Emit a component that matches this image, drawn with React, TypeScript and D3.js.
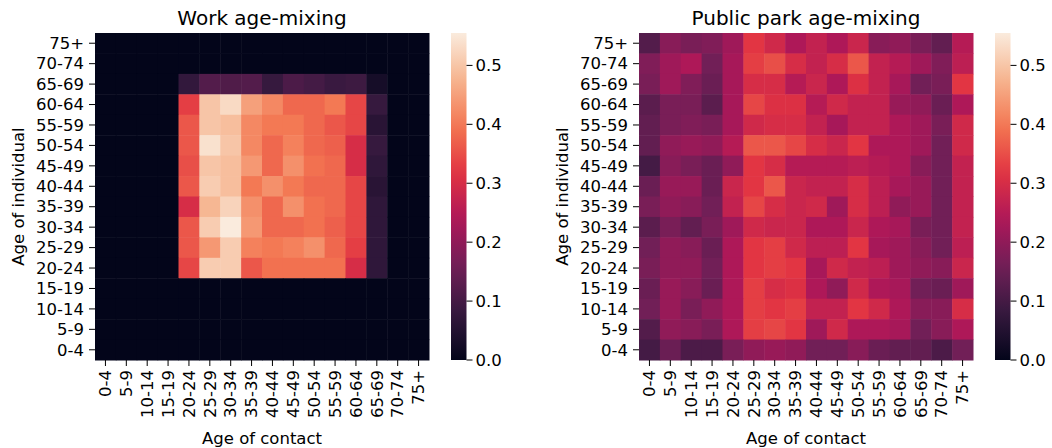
import * as d3 from 'd3'

const ageGroups = ['0-4', '5-9', '10-14', '15-19', '20-24', '25-29', '30-34', '35-39',
  '40-44', '45-49', '50-54', '55-59', '60-64', '65-69', '70-74', '75+']

// rows listed top to bottom (75+ first), columns 0-4 .. 75+
const z16 = ageGroups.map(() => 0)
const workRows: number[][] = [
  z16,
  z16,
  [0, 0, 0, 0, 0.075, 0.12, 0.115, 0.12, 0.08, 0.11, 0.10, 0.085, 0.09, 0.03, 0, 0],
  [0, 0, 0, 0, 0.33, 0.50, 0.53, 0.45, 0.42, 0.38, 0.38, 0.40, 0.34, 0.08, 0, 0],
  [0, 0, 0, 0, 0.36, 0.50, 0.49, 0.42, 0.40, 0.40, 0.38, 0.36, 0.34, 0.06, 0, 0],
  [0, 0, 0, 0, 0.36, 0.54, 0.50, 0.42, 0.38, 0.41, 0.38, 0.37, 0.30, 0.08, 0, 0],
  [0, 0, 0, 0, 0.35, 0.50, 0.49, 0.44, 0.38, 0.43, 0.39, 0.38, 0.30, 0.07, 0, 0],
  [0, 0, 0, 0, 0.36, 0.51, 0.49, 0.40, 0.43, 0.40, 0.38, 0.38, 0.34, 0.06, 0, 0],
  [0, 0, 0, 0, 0.30, 0.48, 0.52, 0.43, 0.38, 0.43, 0.39, 0.38, 0.34, 0.07, 0, 0],
  [0, 0, 0, 0, 0.36, 0.51, 0.555, 0.44, 0.38, 0.38, 0.39, 0.37, 0.34, 0.07, 0, 0],
  [0, 0, 0, 0, 0.36, 0.44, 0.51, 0.41, 0.40, 0.41, 0.43, 0.38, 0.33, 0.07, 0, 0],
  [0, 0, 0, 0, 0.34, 0.51, 0.51, 0.36, 0.39, 0.39, 0.39, 0.39, 0.30, 0.07, 0, 0],
  z16,
  z16,
  z16,
  z16,
]

const parkRows: number[][] = [
  [0.12, 0.19, 0.17, 0.18, 0.22, 0.32, 0.29, 0.24, 0.27, 0.24, 0.28, 0.19, 0.20, 0.17, 0.14, 0.25],
  [0.18, 0.22, 0.24, 0.16, 0.23, 0.33, 0.35, 0.30, 0.27, 0.30, 0.36, 0.27, 0.25, 0.22, 0.18, 0.26],
  [0.17, 0.22, 0.18, 0.15, 0.23, 0.30, 0.30, 0.25, 0.28, 0.24, 0.31, 0.27, 0.23, 0.16, 0.17, 0.32],
  [0.13, 0.17, 0.17, 0.13, 0.23, 0.34, 0.31, 0.31, 0.25, 0.29, 0.27, 0.27, 0.21, 0.20, 0.15, 0.24],
  [0.14, 0.17, 0.18, 0.17, 0.23, 0.29, 0.30, 0.30, 0.27, 0.23, 0.27, 0.27, 0.24, 0.22, 0.17, 0.29],
  [0.14, 0.20, 0.21, 0.20, 0.25, 0.36, 0.36, 0.34, 0.30, 0.28, 0.32, 0.24, 0.24, 0.22, 0.16, 0.29],
  [0.10, 0.19, 0.17, 0.15, 0.20, 0.32, 0.30, 0.25, 0.25, 0.25, 0.26, 0.25, 0.24, 0.19, 0.16, 0.27],
  [0.15, 0.21, 0.21, 0.15, 0.28, 0.32, 0.36, 0.28, 0.27, 0.27, 0.30, 0.26, 0.23, 0.21, 0.16, 0.27],
  [0.17, 0.20, 0.19, 0.16, 0.27, 0.34, 0.30, 0.28, 0.29, 0.22, 0.30, 0.26, 0.20, 0.21, 0.16, 0.27],
  [0.13, 0.17, 0.14, 0.17, 0.22, 0.29, 0.28, 0.28, 0.24, 0.24, 0.28, 0.24, 0.23, 0.17, 0.16, 0.27],
  [0.16, 0.20, 0.19, 0.15, 0.24, 0.32, 0.33, 0.29, 0.26, 0.26, 0.32, 0.23, 0.22, 0.19, 0.16, 0.26],
  [0.17, 0.20, 0.20, 0.16, 0.24, 0.32, 0.33, 0.32, 0.23, 0.29, 0.27, 0.26, 0.22, 0.20, 0.19, 0.28],
  [0.15, 0.21, 0.19, 0.15, 0.24, 0.33, 0.30, 0.31, 0.24, 0.20, 0.29, 0.24, 0.23, 0.16, 0.15, 0.22],
  [0.16, 0.21, 0.17, 0.20, 0.24, 0.33, 0.32, 0.33, 0.27, 0.27, 0.32, 0.29, 0.24, 0.19, 0.19, 0.30],
  [0.12, 0.20, 0.19, 0.17, 0.24, 0.33, 0.34, 0.32, 0.22, 0.29, 0.24, 0.24, 0.23, 0.16, 0.19, 0.24],
  [0.10, 0.15, 0.11, 0.11, 0.17, 0.20, 0.21, 0.20, 0.16, 0.16, 0.19, 0.15, 0.14, 0.14, 0.11, 0.16],
]

const colorbarTicks = [0, 0.1, 0.2, 0.3, 0.4, 0.5]
const vmax = 0.555

// seaborn "rocket" approximated by its sampled palette
const rocketStops = [0, 1 / 7, 2 / 7, 3 / 7, 4 / 7, 5 / 7, 6 / 7, 1]
const rocketColors = ['#03051a', '#35193e', '#701f57', '#ad1759', '#e13342', '#f37651', '#f6b48f', '#faebdd']
const rocket = d3.scaleLinear<string>()
  .domain(rocketStops)
  .range(rocketColors)
  .interpolate(d3.interpolateRgb)
  .clamp(true)

const font = 'DejaVu Sans, sans-serif'
const tickSize = 16.5
const top = 33
const bottom = 360

const Heatmap = ({ rows, title, x0 }: { rows: number[][], title: string, x0: number }) => {
  const width = 334
  const xScale = d3.scaleBand<string>().domain(ageGroups).range([x0, x0 + width])
  const yScale = d3.scaleBand<string>().domain(ageGroups.slice().reverse()).range([top, bottom])
  const cScale = d3.scaleLinear().domain([0, vmax]).range([bottom, top])
  const cbX = x0 + width + 22
  const cbW = 15.5
  const gradId = `grad-${x0}`
  const yLabels = ageGroups.slice().reverse()

  return (
    <g>
      <defs>
        <linearGradient id={gradId} x1="0" y1="1" x2="0" y2="0">
          {d3.range(0, 1.0001, 0.05).map(t => (
            <stop key={t} offset={t} stopColor={rocket(t)} />
          ))}
        </linearGradient>
      </defs>
      <text x={x0 + width / 2} y={25} textAnchor="middle" fontSize={20} fontFamily={font}>{title}</text>
      {rows.map((row, i) => row.map((v, j) => (
        <rect key={`${i}-${j}`}
          x={xScale(ageGroups[j])} y={yScale(yLabels[i])}
          width={xScale.bandwidth() + 0.5} height={yScale.bandwidth() + 0.5}
          fill={rocket(v / vmax)} />
      )))}
      {yLabels.map(lab => {
        const y = (yScale(lab) ?? 0) + yScale.bandwidth() / 2
        return (
          <g key={lab}>
            <line x1={x0 - 6} x2={x0} y1={y} y2={y} stroke="#000" strokeWidth={1} />
            <text x={x0 - 11} y={y} dy="0.35em" textAnchor="end" fontSize={tickSize} fontFamily={font}>{lab}</text>
          </g>
        )
      })}
      {ageGroups.map(lab => {
        const x = (xScale(lab) ?? 0) + xScale.bandwidth() / 2
        return (
          <g key={lab}>
            <line x1={x} x2={x} y1={bottom} y2={bottom + 6} stroke="#000" strokeWidth={1} />
            <text transform={`translate(${x},${bottom + 10}) rotate(-90)`} dy="0.35em"
              textAnchor="end" fontSize={tickSize} fontFamily={font}>{lab}</text>
          </g>
        )
      })}
      <text x={x0 + width / 2} y={444} textAnchor="middle" fontSize={tickSize} fontFamily={font}>Age of contact</text>
      <text transform={`translate(${x0 - 71},${(top + bottom) / 2}) rotate(-90)`} textAnchor="middle"
        fontSize={tickSize} fontFamily={font}>Age of individual</text>
      <rect x={cbX} y={top} width={cbW} height={bottom - top} fill={`url(#${gradId})`} />
      {colorbarTicks.map(t => (
        <g key={t}>
          <line x1={cbX + cbW} x2={cbX + cbW + 6} y1={cScale(t)} y2={cScale(t)} stroke="#000" strokeWidth={1} />
          <text x={cbX + cbW + 9} y={cScale(t)} dy="0.35em" fontSize={tickSize} fontFamily={font}>{t.toFixed(1)}</text>
        </g>
      ))}
    </g>
  )
}

export default function App() {
  return (
    <svg width={1052} height={448} style={{ position: 'absolute', left: 0, top: 0, background: '#fff' }}>
      <Heatmap rows={workRows} title="Work age-mixing" x0={95} />
      <Heatmap rows={parkRows} title="Public park age-mixing" x0={639} />
    </svg>
  )
}
